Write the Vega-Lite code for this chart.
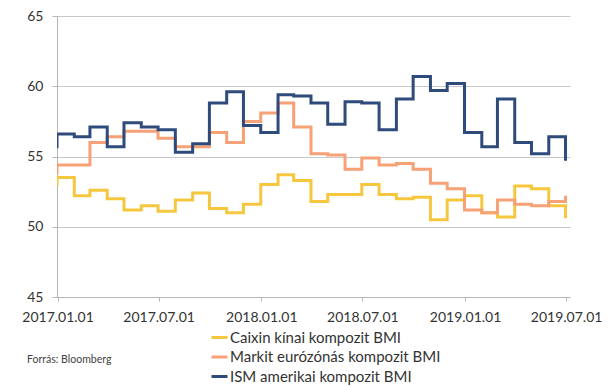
{
  "$schema": "https://vega.github.io/schema/vega-lite/v6.json",
  "width": 513,
  "height": 281,
  "autosize": {"type": "none"},
  "padding": {"left": 57, "top": 16, "right": 45, "bottom": 89},
  "background": "white",
  "config": {"view": {"stroke": null}, "font": "Lato"},
  "title": {
    "text": "Forrás: Bloomberg",
    "orient": "bottom",
    "anchor": "start",
    "frame": "group",
    "baseline": "middle",
    "dx": -30,
    "offset": -25,
    "fontSize": 10.5,
    "fontWeight": "normal",
    "color": "#444444"
  },
  "data": {
    "values": [
      {"date": "2016-11-30", "series": "Caixin kínai kompozit BMI", "value": 53.0},
      {"date": "2016-12-31", "series": "Caixin kínai kompozit BMI", "value": 53.5},
      {"date": "2017-01-31", "series": "Caixin kínai kompozit BMI", "value": 52.2},
      {"date": "2017-02-28", "series": "Caixin kínai kompozit BMI", "value": 52.6},
      {"date": "2017-03-31", "series": "Caixin kínai kompozit BMI", "value": 52.0},
      {"date": "2017-04-30", "series": "Caixin kínai kompozit BMI", "value": 51.2},
      {"date": "2017-05-31", "series": "Caixin kínai kompozit BMI", "value": 51.5},
      {"date": "2017-06-30", "series": "Caixin kínai kompozit BMI", "value": 51.1},
      {"date": "2017-07-31", "series": "Caixin kínai kompozit BMI", "value": 51.9},
      {"date": "2017-08-31", "series": "Caixin kínai kompozit BMI", "value": 52.4},
      {"date": "2017-09-30", "series": "Caixin kínai kompozit BMI", "value": 51.3},
      {"date": "2017-10-31", "series": "Caixin kínai kompozit BMI", "value": 51.0},
      {"date": "2017-11-30", "series": "Caixin kínai kompozit BMI", "value": 51.6},
      {"date": "2017-12-31", "series": "Caixin kínai kompozit BMI", "value": 53.0},
      {"date": "2018-01-31", "series": "Caixin kínai kompozit BMI", "value": 53.7},
      {"date": "2018-02-28", "series": "Caixin kínai kompozit BMI", "value": 53.3},
      {"date": "2018-03-31", "series": "Caixin kínai kompozit BMI", "value": 51.8},
      {"date": "2018-04-30", "series": "Caixin kínai kompozit BMI", "value": 52.3},
      {"date": "2018-05-31", "series": "Caixin kínai kompozit BMI", "value": 52.3},
      {"date": "2018-06-30", "series": "Caixin kínai kompozit BMI", "value": 53.0},
      {"date": "2018-07-31", "series": "Caixin kínai kompozit BMI", "value": 52.3},
      {"date": "2018-08-31", "series": "Caixin kínai kompozit BMI", "value": 52.0},
      {"date": "2018-09-30", "series": "Caixin kínai kompozit BMI", "value": 52.1},
      {"date": "2018-10-31", "series": "Caixin kínai kompozit BMI", "value": 50.5},
      {"date": "2018-11-30", "series": "Caixin kínai kompozit BMI", "value": 51.9},
      {"date": "2018-12-31", "series": "Caixin kínai kompozit BMI", "value": 52.2},
      {"date": "2019-01-31", "series": "Caixin kínai kompozit BMI", "value": 51.0},
      {"date": "2019-02-28", "series": "Caixin kínai kompozit BMI", "value": 50.7},
      {"date": "2019-03-31", "series": "Caixin kínai kompozit BMI", "value": 52.9},
      {"date": "2019-04-30", "series": "Caixin kínai kompozit BMI", "value": 52.7},
      {"date": "2019-05-31", "series": "Caixin kínai kompozit BMI", "value": 51.5},
      {"date": "2019-06-30", "series": "Caixin kínai kompozit BMI", "value": 50.6},

      {"date": "2016-11-30", "series": "Markit eurózónás kompozit BMI", "value": 53.8},
      {"date": "2016-12-31", "series": "Markit eurózónás kompozit BMI", "value": 54.4},
      {"date": "2017-01-31", "series": "Markit eurózónás kompozit BMI", "value": 54.4},
      {"date": "2017-02-28", "series": "Markit eurózónás kompozit BMI", "value": 56.0},
      {"date": "2017-03-31", "series": "Markit eurózónás kompozit BMI", "value": 56.4},
      {"date": "2017-04-30", "series": "Markit eurózónás kompozit BMI", "value": 56.8},
      {"date": "2017-05-31", "series": "Markit eurózónás kompozit BMI", "value": 56.8},
      {"date": "2017-06-30", "series": "Markit eurózónás kompozit BMI", "value": 56.3},
      {"date": "2017-07-31", "series": "Markit eurózónás kompozit BMI", "value": 55.7},
      {"date": "2017-08-31", "series": "Markit eurózónás kompozit BMI", "value": 55.7},
      {"date": "2017-09-30", "series": "Markit eurózónás kompozit BMI", "value": 56.7},
      {"date": "2017-10-31", "series": "Markit eurózónás kompozit BMI", "value": 56.0},
      {"date": "2017-11-30", "series": "Markit eurózónás kompozit BMI", "value": 57.5},
      {"date": "2017-12-31", "series": "Markit eurózónás kompozit BMI", "value": 58.1},
      {"date": "2018-01-31", "series": "Markit eurózónás kompozit BMI", "value": 58.8},
      {"date": "2018-02-28", "series": "Markit eurózónás kompozit BMI", "value": 57.1},
      {"date": "2018-03-31", "series": "Markit eurózónás kompozit BMI", "value": 55.2},
      {"date": "2018-04-30", "series": "Markit eurózónás kompozit BMI", "value": 55.1},
      {"date": "2018-05-31", "series": "Markit eurózónás kompozit BMI", "value": 54.1},
      {"date": "2018-06-30", "series": "Markit eurózónás kompozit BMI", "value": 54.9},
      {"date": "2018-07-31", "series": "Markit eurózónás kompozit BMI", "value": 54.4},
      {"date": "2018-08-31", "series": "Markit eurózónás kompozit BMI", "value": 54.5},
      {"date": "2018-09-30", "series": "Markit eurózónás kompozit BMI", "value": 54.1},
      {"date": "2018-10-31", "series": "Markit eurózónás kompozit BMI", "value": 53.1},
      {"date": "2018-11-30", "series": "Markit eurózónás kompozit BMI", "value": 52.7},
      {"date": "2018-12-31", "series": "Markit eurózónás kompozit BMI", "value": 51.2},
      {"date": "2019-01-31", "series": "Markit eurózónás kompozit BMI", "value": 51.0},
      {"date": "2019-02-28", "series": "Markit eurózónás kompozit BMI", "value": 51.9},
      {"date": "2019-03-31", "series": "Markit eurózónás kompozit BMI", "value": 51.6},
      {"date": "2019-04-30", "series": "Markit eurózónás kompozit BMI", "value": 51.5},
      {"date": "2019-05-31", "series": "Markit eurózónás kompozit BMI", "value": 51.8},
      {"date": "2019-06-30", "series": "Markit eurózónás kompozit BMI", "value": 52.2},

      {"date": "2016-11-30", "series": "ISM amerikai kompozit BMI", "value": 55.7},
      {"date": "2016-12-31", "series": "ISM amerikai kompozit BMI", "value": 56.6},
      {"date": "2017-01-31", "series": "ISM amerikai kompozit BMI", "value": 56.4},
      {"date": "2017-02-28", "series": "ISM amerikai kompozit BMI", "value": 57.1},
      {"date": "2017-03-31", "series": "ISM amerikai kompozit BMI", "value": 55.7},
      {"date": "2017-04-30", "series": "ISM amerikai kompozit BMI", "value": 57.4},
      {"date": "2017-05-31", "series": "ISM amerikai kompozit BMI", "value": 57.1},
      {"date": "2017-06-30", "series": "ISM amerikai kompozit BMI", "value": 56.9},
      {"date": "2017-07-31", "series": "ISM amerikai kompozit BMI", "value": 55.3},
      {"date": "2017-08-31", "series": "ISM amerikai kompozit BMI", "value": 55.9},
      {"date": "2017-09-30", "series": "ISM amerikai kompozit BMI", "value": 58.8},
      {"date": "2017-10-31", "series": "ISM amerikai kompozit BMI", "value": 59.6},
      {"date": "2017-11-30", "series": "ISM amerikai kompozit BMI", "value": 57.2},
      {"date": "2017-12-31", "series": "ISM amerikai kompozit BMI", "value": 56.7},
      {"date": "2018-01-31", "series": "ISM amerikai kompozit BMI", "value": 59.4},
      {"date": "2018-02-28", "series": "ISM amerikai kompozit BMI", "value": 59.3},
      {"date": "2018-03-31", "series": "ISM amerikai kompozit BMI", "value": 58.8},
      {"date": "2018-04-30", "series": "ISM amerikai kompozit BMI", "value": 57.3},
      {"date": "2018-05-31", "series": "ISM amerikai kompozit BMI", "value": 58.9},
      {"date": "2018-06-30", "series": "ISM amerikai kompozit BMI", "value": 58.8},
      {"date": "2018-07-31", "series": "ISM amerikai kompozit BMI", "value": 56.9},
      {"date": "2018-08-31", "series": "ISM amerikai kompozit BMI", "value": 59.1},
      {"date": "2018-09-30", "series": "ISM amerikai kompozit BMI", "value": 60.7},
      {"date": "2018-10-31", "series": "ISM amerikai kompozit BMI", "value": 59.7},
      {"date": "2018-11-30", "series": "ISM amerikai kompozit BMI", "value": 60.2},
      {"date": "2018-12-31", "series": "ISM amerikai kompozit BMI", "value": 56.7},
      {"date": "2019-01-31", "series": "ISM amerikai kompozit BMI", "value": 55.7},
      {"date": "2019-02-28", "series": "ISM amerikai kompozit BMI", "value": 59.1},
      {"date": "2019-03-31", "series": "ISM amerikai kompozit BMI", "value": 56.0},
      {"date": "2019-04-30", "series": "ISM amerikai kompozit BMI", "value": 55.2},
      {"date": "2019-05-31", "series": "ISM amerikai kompozit BMI", "value": 56.4},
      {"date": "2019-06-30", "series": "ISM amerikai kompozit BMI", "value": 54.7}
    ]
  },
  "mark": {"type": "line", "interpolate": "step-after", "strokeWidth": 3, "clip": true},
  "encoding": {
    "x": {
      "field": "date",
      "type": "temporal",
      "scale": {
        "type": "utc",
        "domain": [
          {"year": 2016, "month": 12, "date": 31, "utc": true},
          {"year": 2019, "month": 7, "date": 8, "utc": true}
        ]
      },
      "axis": {
        "title": null,
        "values": [
          {"year": 2017, "month": 1, "date": 1, "utc": true},
          {"year": 2017, "month": 7, "date": 1, "utc": true},
          {"year": 2018, "month": 1, "date": 1, "utc": true},
          {"year": 2018, "month": 7, "date": 1, "utc": true},
          {"year": 2019, "month": 1, "date": 1, "utc": true},
          {"year": 2019, "month": 7, "date": 1, "utc": true}
        ],
        "format": "%Y.%m.%d",
        "grid": false,
        "domainColor": "#b5b5b5",
        "tickColor": "#b5b5b5",
        "tickSize": 4,
        "labelPadding": 9,
        "labelFontSize": 14,
        "labelColor": "#333333",
        "labelFlush": false,
        "labelOverlap": false
      }
    },
    "y": {
      "field": "value",
      "type": "quantitative",
      "scale": {"domain": [45, 65], "nice": false, "zero": false},
      "axis": {
        "title": null,
        "values": [45, 50, 55, 60, 65],
        "grid": true,
        "gridColor": "#c8c8c8",
        "domainColor": "#b5b5b5",
        "tickColor": "#b5b5b5",
        "tickSize": 5,
        "labelPadding": 9,
        "labelFontSize": 14,
        "labelColor": "#333333"
      }
    },
    "color": {
      "field": "series",
      "type": "nominal",
      "scale": {
        "domain": ["Caixin kínai kompozit BMI", "Markit eurózónás kompozit BMI", "ISM amerikai kompozit BMI"],
        "range": ["#f6c73e", "#f6a176", "#2f4b7c"]
      },
      "legend": {
        "title": null,
        "orient": "none",
        "legendX": 153,
        "legendY": 312,
        "direction": "vertical",
        "symbolType": "stroke",
        "symbolStrokeWidth": 3,
        "symbolSize": 256,
        "labelFontSize": 15,
        "labelLimit": 400,
        "labelColor": "#333333",
        "labelOffset": 1,
        "rowPadding": 1.5,
        "padding": 0
      }
    }
  }
}
